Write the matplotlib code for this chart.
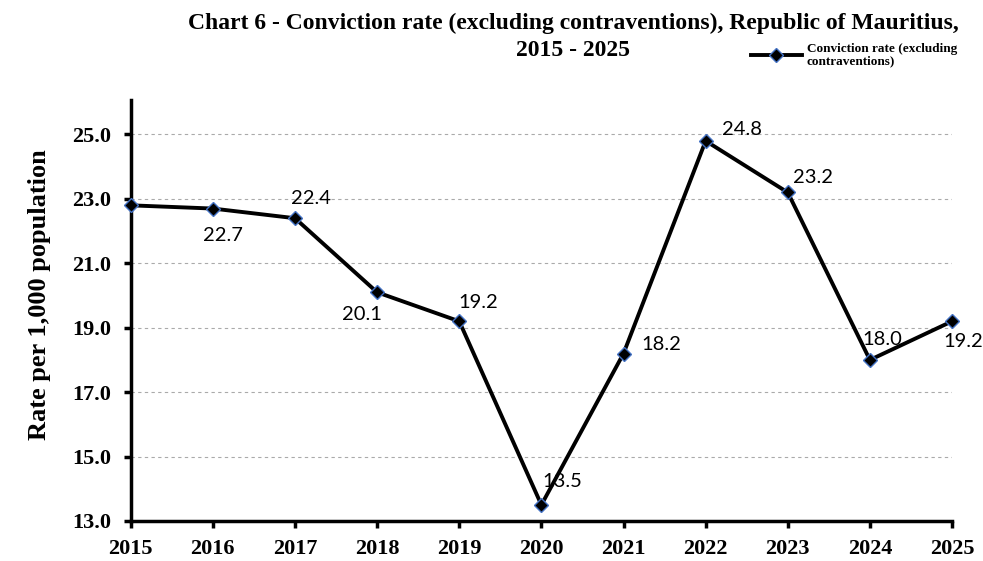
import matplotlib
matplotlib.use("Agg")
import matplotlib.pyplot as plt

years = [2015, 2016, 2017, 2018, 2019, 2020, 2021, 2022, 2023, 2024, 2025]
rates = [22.8, 22.7, 22.4, 20.1, 19.2, 13.5, 18.2, 24.8, 23.2, 18.0, 19.2]
show_label = [False, True, True, True, True, True, True, True, True, True, True]
yticks = [13.0, 15.0, 17.0, 19.0, 21.0, 23.0, 25.0]

# label centre offsets from the point, in pixels (dx right, dy up)
offsets_px = [(0, 0), (10, -27), (16, 20), (-15, -22), (19, 19), (21, 23),
              (38, 9), (36, 11), (25, 15), (12, 20), (11, -20)]

serif = ['Liberation Serif', 'DejaVu Serif']

fig = plt.figure(figsize=(9.83, 5.61), dpi=100)
ax = fig.add_axes([0.133, 40 / 561, 0.8355, 421 / 561])

line, = ax.plot(years, rates, color='black', lw=2.8, marker='D', markersize=7.5,
                markerfacecolor='black', markeredgecolor='#4472C4', markeredgewidth=1.0,
                label='Conviction rate (excluding\ncontraventions)', zorder=3, clip_on=False)

for x, y, s, (dx, dy) in zip(years, rates, show_label, offsets_px):
    if s:
        ax.annotate(f"{y:.1f}", (x, y), xytext=(dx * 0.72, dy * 0.72), textcoords='offset points',
                    ha='center', va='center', fontsize=14.5, family=['Lato', 'DejaVu Sans'], zorder=4)

ax.set_xlim(2015, 2025)
ax.set_ylim(13.0, 26.07)
ax.set_yticks(yticks)
ax.set_yticklabels([f"{t:.1f}" for t in yticks])
ax.set_xticks(years)
ax.set_xticklabels([str(y) for y in years])
for lab in ax.get_xticklabels() + ax.get_yticklabels():
    lab.set_fontfamily(serif)
    lab.set_fontweight('bold')
    lab.set_fontsize(16)

ax.yaxis.grid(True, linestyle=(0, (3, 3)), color='#AAAAAA', lw=0.8)
ax.set_axisbelow(True)
ax.spines['top'].set_visible(False)
ax.spines['right'].set_visible(False)
ax.spines['left'].set_linewidth(2.5)
ax.spines['bottom'].set_linewidth(2.5)
ax.tick_params(axis='x', direction='out', length=5, width=2.5, pad=8)
ax.tick_params(axis='y', direction='out', length=5, width=2.5, pad=9)

ax.set_ylabel('Rate per 1,000 population', family=serif, fontweight='bold', fontsize=19)
ax.yaxis.set_label_coords(-0.097, 0.537)

fig.text(0.583, 1 - 23 / 561, 'Chart 6 - Conviction rate (excluding contraventions), Republic of Mauritius,',
         ha='center', va='center', family=serif, fontweight='bold', fontsize=17)
fig.text(0.583, 1 - 50 / 561, '2015 - 2025',
         ha='center', va='center', family=serif, fontweight='bold', fontsize=17)

leg = fig.legend(handles=[line], loc='upper left', bbox_to_anchor=(0.759, 0.932), frameon=False,
                 prop={'family': serif, 'weight': 'bold', 'size': 9.5}, handlelength=3.8,
                 handletextpad=0.4, borderaxespad=0, labelspacing=0.2)
for t in leg.get_texts():
    t.set_linespacing(1.0)

fig.savefig('out.png', dpi=100)
